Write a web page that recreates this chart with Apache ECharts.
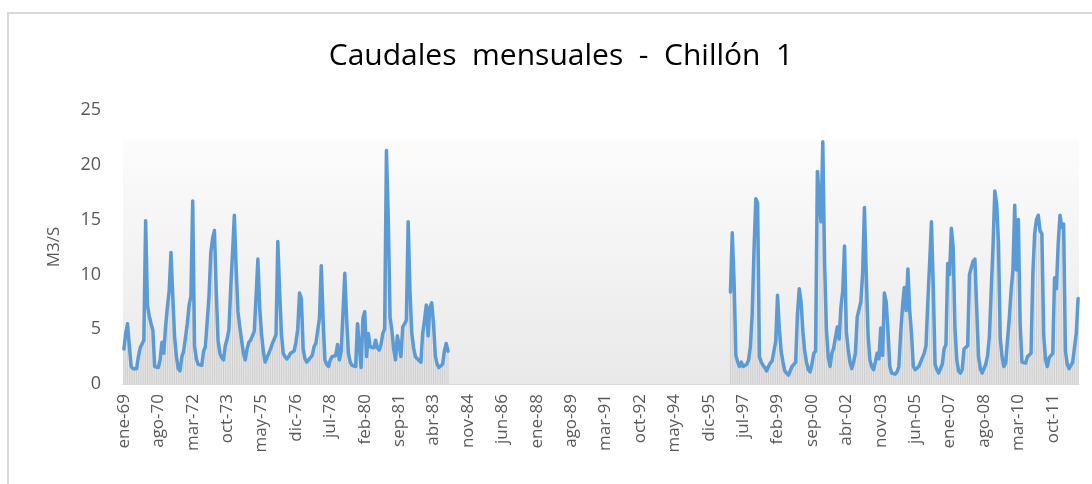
<!DOCTYPE html>
<html>
<head>
<meta charset="utf-8">
<title>Caudales mensuales - Chillón 1</title>
<script src="https://cdn.jsdelivr.net/npm/echarts@6.0.0/dist/echarts.min.js"></script>
<style>
  html, body { margin: 0; padding: 0; background: #fff; }
  #main { width: 1092px; height: 484px; }
</style>
</head>
<body>
<div id="main"></div>
<script>
const meses = ['ene', 'feb', 'mar', 'abr', 'may', 'jun', 'jul', 'ago', 'sep', 'oct', 'nov', 'dic']
const anioInicio = 1969
const anioFin = 2012

// ene-69 a dic-83
const tramo1 = [
  3.2, 4.6, 5.5, 3.5, 1.6, 1.4, 1.4, 1.4, 2.5, 3.3, 3.4, 4.0,      // 1969
  14.9, 7.2, 6.2, 5.5, 4.9, 1.6, 1.5, 1.5, 2.2, 3.8, 2.8, 5.2,     // 1970
  7.0, 8.5, 12.0, 8.0, 4.3, 2.5, 1.4, 1.2, 2.5, 3.0, 3.0, 5.5,     // 1971
  7.2, 8.0, 16.7, 3.5, 2.3, 1.8, 1.7, 1.7, 3.0, 3.4, 3.5, 8.0,     // 1972
  12.0, 13.3, 14.0, 8.5, 4.0, 2.8, 2.4, 2.2, 3.5, 4.1, 5.0, 8.8,   // 1973
  12.0, 15.4, 10.5, 6.6, 5.2, 4.0, 2.8, 2.2, 3.2, 3.8, 4.0, 4.1,   // 1974
  4.8, 8.0, 11.4, 7.0, 4.6, 3.0, 2.0, 2.1, 2.8, 3.2, 3.7, 4.1,     // 1975
  4.5, 13.0, 8.5, 4.6, 2.8, 2.5, 2.3, 2.5, 2.8, 2.9, 3.0, 3.8,     // 1976
  5.0, 8.3, 7.8, 3.2, 2.3, 2.0, 2.1, 2.4, 2.6, 3.4, 3.7, 3.8,      // 1977
  6.0, 10.8, 6.0, 2.2, 1.8, 1.6, 2.2, 2.5, 2.5, 2.6, 3.6, 2.2,     // 1978
  3.0, 6.5, 10.1, 6.0, 2.8, 2.0, 1.7, 1.6, 1.6, 5.5, 5.5, 1.5,     // 1979
  6.0, 6.6, 2.5, 4.6, 3.4, 3.3, 3.3, 4.0, 3.3, 3.1, 3.6, 4.6,      // 1980
  5.0, 21.3, 15.2, 6.1, 4.9, 3.2, 2.2, 4.4, 3.5, 2.5, 5.2, 5.5,    // 1981
  5.8, 14.8, 8.5, 4.6, 3.3, 2.5, 2.3, 2.2, 2.0, 4.6, 5.8, 7.2,     // 1982
  4.4, 7.0, 7.4, 5.5, 2.6, 1.8, 1.5, 1.4, 1.8, 3.0, 3.7, 3.0       // 1983
]

// dic-96 a dic-12
const tramo2 = [
  8.4,                                                             // dic 1996
  13.8, 9.3, 2.6, 2.0, 1.6, 2.0, 1.6, 1.7, 1.8, 2.2, 3.4, 6.4,     // 1997
  12.2, 16.9, 16.5, 2.5, 2.0, 1.7, 1.5, 1.2, 1.6, 1.9, 2.1, 2.2,   // 1998
  3.9, 8.1, 5.0, 3.0, 2.0, 1.2, 1.0, 0.8, 0.9, 1.6, 1.8, 2.0,      // 1999
  6.4, 8.7, 7.5, 4.8, 3.0, 2.0, 1.3, 1.1, 1.8, 2.8, 3.0, 19.4,     // 2000
  19.5, 14.8, 22.1, 11.0, 5.0, 2.5, 1.6, 2.8, 3.3, 3.4, 5.2, 4.1,  // 2001
  7.0, 8.5, 12.6, 4.8, 3.2, 2.0, 1.4, 2.0, 2.8, 6.1, 6.1, 7.5,     // 2002
  10.1, 16.1, 10.0, 4.5, 2.2, 1.6, 1.3, 2.0, 2.8, 2.3, 5.1, 2.6,   // 2003
  8.3, 7.5, 4.8, 1.6, 1.0, 0.9, 0.9, 1.1, 1.6, 4.6, 7.0, 8.8,      // 2004
  6.7, 10.5, 6.7, 4.6, 1.6, 1.3, 1.4, 1.6, 2.0, 2.4, 2.8, 3.5,     // 2005
  7.5, 11.0, 14.8, 9.0, 1.8, 1.3, 1.0, 1.0, 1.8, 3.2, 3.6, 11.0,   // 2006
  10.0, 14.2, 12.5, 5.0, 2.2, 1.2, 1.0, 1.3, 3.2, 3.3, 3.5, 10.0,  // 2007
  10.6, 11.2, 11.4, 6.9, 2.5, 1.4, 1.0, 1.1, 1.8, 2.6, 4.3, 8.5,   // 2008
  12.5, 17.6, 16.5, 13.0, 4.2, 2.5, 1.6, 1.9, 4.0, 6.0, 8.5, 10.4, // 2009
  16.3, 10.4, 15.0, 5.5, 2.0, 1.9, 1.9, 2.5, 2.5, 2.8, 10.0, 13.7, // 2010
  15.0, 15.4, 14.0, 13.7, 4.5, 2.2, 1.6, 2.4, 2.6, 2.8, 9.7, 8.7,  // 2011
  12.8, 15.4, 14.3, 14.6, 3.0, 1.8, 1.4, 1.4, 2.0, 2.0, 4.6, 7.8   // 2012
]

// eje x: un mes por categoria
const categorias = []
for (let a = anioInicio; a <= anioFin; a++) {
  for (let m = 0; m < 12; m++) {
    categorias.push(meses[m] + '-' + String(a % 100).padStart(2, '0'))
  }
}

const vacios = categorias.length - tramo1.length - tramo2.length
const caudales = tramo1.concat(new Array(vacios).fill(null), tramo2)

const fuente = "'Open Sans', 'Noto Sans', sans-serif"

const option = {
  animation: false,
  title: {
    text: 'Caudales  mensuales  -  Chillón  1',
    left: 556,
    top: 36,
    textAlign: 'center',
    textStyle: {
      fontFamily: fuente,
      fontSize: 30,
      fontWeight: 'normal',
      color: '#000'
    }
  },
  graphic: [
    {
      type: 'rect',
      shape: { x: 8, y: 13, width: 1200, height: 600 },
      style: { fill: 'none', stroke: '#d9d9d9', lineWidth: 2 },
      silent: true
    }
  ],
  grid: {
    left: 123,
    right: 13,
    top: 110,
    bottom: 100,
    show: true,
    borderWidth: 0,
    backgroundColor: new echarts.graphic.LinearGradient(0, 0, 0, 1, [
      { offset: 0, color: '#ffffff' },
      { offset: 0.105, color: '#ffffff' },
      { offset: 0.11, color: '#fcfcfc' },
      { offset: 1, color: '#e9e9e9' }
    ])
  },
  xAxis: {
    type: 'category',
    data: categorias,
    boundaryGap: true,
    axisLine: { lineStyle: { color: '#d9d9d9', width: 1 } },
    axisTick: { interval: 18, length: 7, lineStyle: { color: '#d9d9d9' } },
    axisLabel: {
      interval: 18,
      rotate: 90,
      margin: 10,
      fontFamily: fuente,
      fontSize: 17,
      color: '#595959'
    }
  },
  yAxis: {
    type: 'value',
    min: 0,
    max: 25,
    interval: 5,
    name: 'M3/S',
    nameLocation: 'middle',
    nameGap: 60,
    nameTextStyle: { fontFamily: fuente, fontSize: 17, color: '#595959' },
    axisLine: { show: false },
    axisTick: { show: false },
    splitLine: { show: false },
    axisLabel: { fontFamily: fuente, fontSize: 18, color: '#595959', margin: 22 }
  },
  series: [
    {
      type: 'bar',
      data: caudales,
      barWidth: 1,
      itemStyle: { color: '#cecece' },
      silent: true,
      z: 1
    },
    {
      type: 'line',
      data: caudales,
      showSymbol: false,
      connectNulls: false,
      lineStyle: { color: '#5b9bd5', width: 3.5, cap: 'round', join: 'round' },
      z: 3
    }
  ]
}

const chart = echarts.init(document.getElementById('main'))
chart.setOption(option)
</script>
</body>
</html>
